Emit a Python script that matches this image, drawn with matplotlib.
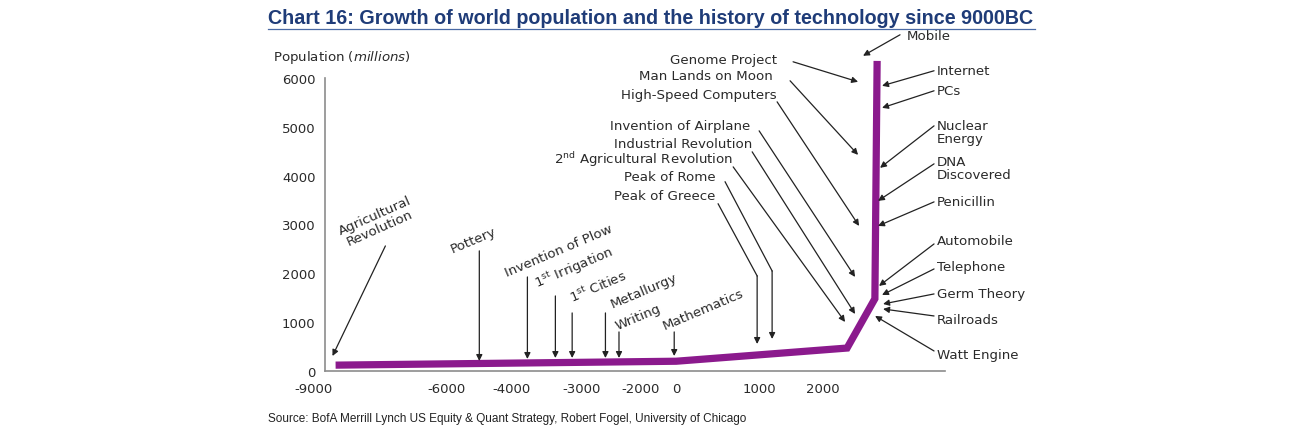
import matplotlib
matplotlib.use("Agg")
import matplotlib.pyplot as plt
import numpy as np
from matplotlib.lines import Line2D

plt.rcParams['font.family'] = ['DejaVu Sans']
plt.rcParams['mathtext.fontset'] = 'dejavusans'

# population curve as drawn (year, millions)
years = [-8500, 0, 2375, 2810, 2845]
population = [120, 200, 470, 1480, 6350]

# x axis of the chart is not linear: tick years and where they sit on the axis
tick_years = [-9000, -6000, -4000, -3000, -2000, 0, 1000, 2000]
tick_pos = [313, 446, 511, 581, 640, 676, 759, 823]

# events before the industrial age (vertical arrows, rotated labels)
early_names = ["Agricultural\nRevolution", "Pottery", "Invention of Plow",
               r"1$^{\mathrm{st}}$ Irrigation", r"1$^{\mathrm{st}}$ Cities",
               "Metallurgy", "Writing", "Mathematics"]
early_years = [-8570, -4985, -3770, -3370, -3130, -2590, -2360, -110]
early_pop = [307, 205, 246, 266, 266, 266, 266, 307]

# events labelled on the left of the spike
mid_names = ["Genome Project", "Man Lands on Moon", "High-Speed Computers",
             "Invention of Airplane", "Industrial Revolution",
             r"2$^{\mathrm{nd}}$ Agricultural Revolution", "Peak of Rome",
             "Peak of Greece"]
mid_years = [2547, 2547, 2563, 2500, 2500, 2344, 1203, 976]
mid_pop = [5922, 4426, 2971, 1926, 1168, 1004, 656, 553]

# events labelled on the right of the spike
late_names = ["Mobile", "Internet", "PCs", "Nuclear\nEnergy", "DNA\nDiscovered",
              "Penicillin", "Automobile", "Telephone", "Germ Theory",
              "Railroads", "Watt Engine"]
late_years = [2625, 2922, 2922, 2891, 2859, 2859, 2875, 2922, 2938, 2938, 2813]
late_pop = [6455, 5840, 5389, 4160, 3484, 2971, 1742, 1557, 1373, 1270, 1127]

# label layout (data coords): where arrows start and where text sits
early_from = [(-7376, 2561), (-4985, 2460), (-3770, 1926), (-3370, 1537),
              (-3130, 1189), (-2590, 1189), (-2360, 800), (-110, 800)]
early_text = [(-7556, 3074), (-5815, 2439), (-4123, 1947), (-3628, 1721),
              (-3128, 1414), (-2475, 1311), (-2390, 861), (-610, 861)]
mid_from = [(1531, 6332), (1484, 5943), (1281, 5512), (1000, 4918),
            (916, 4488), (687, 4180), (590, 3873), (506, 3422)]
mid_bend = [None, None, None, None, None, None, (1203, 2049), (976, 1947)]
mid_text = [(1281, 6373), (1219, 6045), (1281, 5656), (892, 5020),
            (916, 4652), (687, 4344), (470, 3975), (470, 3586)]
late_from = [(3203, 6885), (3735, 6148), (3735, 5738), (3735, 5020),
             (3735, 4242), (3735, 3463), (3735, 2602), (3735, 2090),
             (3735, 1578), (3735, 1127), (3735, 410)]
late_text = [(3313, 6865), (3781, 6148), (3781, 5738), (3781, 4898),
             (3781, 4160), (3781, 3463), (3781, 2664), (3781, 2131),
             (3781, 1578), (3781, 1045), (3781, 348)]

anchor_years = [-12000] + tick_years + [6000]
anchor_pos = [180] + tick_pos + [1079]


def fwd(x):
    return np.interp(x, anchor_years, anchor_pos)


def inv(p):
    return np.interp(p, anchor_pos, anchor_years)


W, H = 1293, 431
fig = plt.figure(figsize=(W / 100, H / 100), dpi=100)
ax = fig.add_axes([313 / W, (H - 372) / H, (945 - 313) / W, (372 - 79) / H])
ax.set_xscale('function', functions=(fwd, inv))
x_right = float(inv(945))
ax.set_xlim(-9010, x_right)
ax.set_ylim(0, 6000)

txt = '#2a2a2a'
fs = 9.6
arrow_kw = dict(arrowstyle='-|>', color='#222222', lw=0.9, mutation_scale=9,
                shrinkA=0, shrinkB=0)

ax.plot(years, population, color='#8b1a8d', lw=5.2, solid_joinstyle='miter',
        solid_capstyle='butt', clip_on=False, zorder=3)

# axes look
for s in ['top', 'right']:
    ax.spines[s].set_visible(False)
y_axis_year = -8730
ax.spines['left'].set_position(('data', y_axis_year))
ax.spines['left'].set_bounds(0, 6000)
ax.spines['bottom'].set_bounds(y_axis_year, x_right)
for s in ['left', 'bottom']:
    ax.spines[s].set_color('#8c8c8c')
    ax.spines[s].set_linewidth(1.2)
ax.set_yticks(range(0, 7000, 1000))
ax.set_xticks(tick_years)
ax.set_xticklabels([str(t) for t in tick_years])
ax.tick_params(axis='y', length=0, pad=7, labelsize=9.5, labelcolor=txt)
ax.tick_params(axis='x', length=0, pad=8, labelsize=9.5, labelcolor=txt)

# early events
for i, name in enumerate(early_names):
    ax.annotate('', xy=(early_years[i], early_pop[i]), xytext=early_from[i],
                arrowprops=arrow_kw, annotation_clip=False)
    if '\n' in name:
        ax.text(*early_text[i], name, rotation=24, rotation_mode='anchor',
                ha='center', va='center', multialignment='center',
                fontsize=fs, color=txt, linespacing=1.05)
    else:
        ax.text(*early_text[i], name, rotation=23, rotation_mode='anchor',
                ha='left', va='baseline', fontsize=fs, color=txt)

# events left of the spike
for i, name in enumerate(mid_names):
    start = mid_from[i]
    if mid_bend[i] is not None:
        ax.plot([start[0], mid_bend[i][0]], [start[1], mid_bend[i][1]],
                color='#222222', lw=0.9, clip_on=False)
        start = mid_bend[i]
    ax.annotate('', xy=(mid_years[i], mid_pop[i]), xytext=start,
                arrowprops=arrow_kw, annotation_clip=False)
    ax.text(*mid_text[i], name, ha='right', va='center', fontsize=fs, color=txt)

# events right of the spike
for i, name in enumerate(late_names):
    ax.annotate('', xy=(late_years[i], late_pop[i]), xytext=late_from[i],
                arrowprops=arrow_kw, annotation_clip=False)
    ax.text(*late_text[i], name, ha='left', va='center', fontsize=fs,
            color=txt, linespacing=1.0)

# title, axis label, source
fig.text(268 / W, (H - 24) / H,
         "Chart 16: Growth of world population and the history of technology since 9000BC",
         family=['Liberation Sans Narrow', 'Liberation Sans'], fontweight='bold',
         fontsize=14.2, color='#1f3c78', ha='left', va='baseline')
fig.add_artist(Line2D([268 / W, 1035 / W], [(H - 30) / H] * 2,
                      color='#4a6aa5', lw=0.9))
fig.text(273 / W, (H - 57) / H, r"Population $\it{(millions)}$", fontsize=fs,
         color=txt, ha='left', va='center')
fig.text(268 / W, (H - 419) / H,
         "Source: BofA Merrill Lynch US Equity & Quant Strategy, Robert Fogel, University of Chicago",
         family=['Liberation Sans Narrow', 'Liberation Sans'], fontsize=8.5,
         color='#222222', ha='left', va='center')

fig.savefig("out.png", dpi=100)
